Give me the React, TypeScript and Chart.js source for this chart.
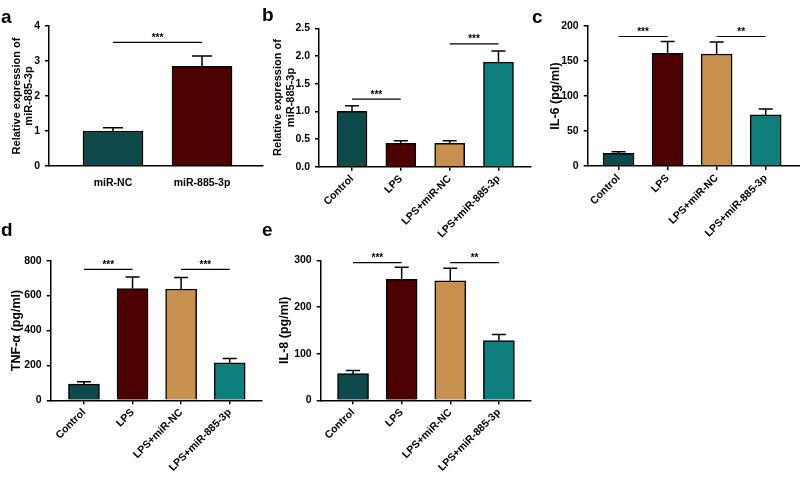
import React, { useEffect, useRef } from 'react';
import { Chart, registerables } from 'chart.js';
Chart.register(...registerables);

// ---------- data ----------
const GROUPS_A = ['miR-NC', 'miR-885-3p'];
const GROUPS = ['Control', 'LPS', 'LPS+miR-NC', 'LPS+miR-885-3p'];

const A_MEAN = [1.0, 2.85];
const A_ERR = [0.09, 0.29];
const A_SIG = [{ from: 0, to: 1, y: 3.53, label: '***' }];

const B_MEAN = [1.0, 0.42, 0.42, 1.89];
const B_ERR = [0.1, 0.05, 0.05, 0.2];
const B_SIG = [
  { from: 0, to: 1, y: 1.22, label: '***' },
  { from: 2, to: 3, y: 2.22, label: '***' },
];

const C_MEAN = [18, 161, 160, 73];
const C_ERR = [2.5, 17, 17, 8.5];
const C_SIG = [
  { from: 0, to: 1, y: 185, label: '***' },
  { from: 2, to: 3, y: 185, label: '**' },
];

const D_MEAN = [93, 640, 638, 215];
const D_ERR = [14, 66, 66, 25];
const D_SIG = [
  { from: 0, to: 1, y: 750, label: '***' },
  { from: 2, to: 3, y: 750, label: '***' },
];

const E_MEAN = [57, 259, 256, 128];
const E_ERR = [7, 26, 27, 13];
const E_SIG = [
  { from: 0, to: 1, y: 295, label: '***' },
  { from: 2, to: 3, y: 295, label: '**' },
];

const COLORS_A = ['#0e4a4b', '#4d0000'];
const COLORS = ['#0e4a4b', '#4d0000', '#c8904f', '#0e7f7c'];

const FONT = '"Liberation Sans", Arial, Helvetica, sans-serif';

// ---------- layout (positions / styles) ----------
type Panel = {
  letter: string;
  labels: string[];
  mean: number[];
  err: number[];
  sig: { from: number; to: number; y: number; label: string }[];
  colors: string[];
  yMax: number;
  yStep: number;
  decimals: number;
  yTitle: string | string[];
  titleSize: number;
  rot: number;
  showXTicks: boolean;
  box: { left: number; top: number; w: number; h: number };
  yWidth: number;
  xHeight: number;
  padTop: number;
  padRight: number;
  titlePad: number;
  xMin: number;
  xMax: number;
  barW: number;
  capW: number;
  labelPad: number;
  letterPos: { left: number; top: number };
};

const PANELS: Panel[] = [
  {
    letter: 'a', labels: GROUPS_A, mean: A_MEAN, err: A_ERR, sig: A_SIG, colors: COLORS_A,
    yMax: 4, yStep: 1, decimals: 0, yTitle: ['Relative expression of', 'miR-885-3p'], titleSize: 11,
    rot: 0, showXTicks: false,
    box: { left: 0, top: 0, w: 268, h: 240 }, yWidth: 49, xHeight: 74, padTop: 26, padRight: 5, titlePad: 10.5,
    xMin: -0.719, xMax: 1.685, barW: 60, capW: 20, labelPad: 7, letterPos: { left: 1, top: 7 },
  },
  {
    letter: 'b', labels: GROUPS, mean: B_MEAN, err: B_ERR, sig: B_SIG, colors: COLORS,
    yMax: 2.5, yStep: 0.5, decimals: 1, yTitle: ['Relative expression of', 'miR-885-3p'], titleSize: 11,
    rot: 45, showXTicks: true,
    box: { left: 268, top: 0, w: 268, h: 240 }, yWidth: 51, xHeight: 73.3, padTop: 28.3, padRight: 5, titlePad: 4,
    xMin: -0.676, xMax: 3.666, barW: 30, capW: 14, labelPad: 2, letterPos: { left: 262, top: 5 },
  },
  {
    letter: 'c', labels: GROUPS, mean: C_MEAN, err: C_ERR, sig: C_SIG, colors: COLORS,
    yMax: 200, yStep: 50, decimals: 0, yTitle: 'IL-6 (pg/ml)', titleSize: 12.5,
    rot: 45, showXTicks: true,
    box: { left: 540, top: 0, w: 260, h: 240 }, yWidth: 47.7, xHeight: 74, padTop: 26, padRight: 0, titlePad: 8,
    xMin: -0.629, xMax: 3.7, barW: 31, capW: 14, labelPad: 2, letterPos: { left: 532, top: 7 },
  },
  {
    letter: 'd', labels: GROUPS, mean: D_MEAN, err: D_ERR, sig: D_SIG, colors: COLORS,
    yMax: 800, yStep: 200, decimals: 0, yTitle: 'TNF-α (pg/ml)', titleSize: 12.5,
    rot: 45, showXTicks: true,
    box: { left: 0, top: 240, w: 268, h: 237 }, yWidth: 50.7, xHeight: 76.7, padTop: 20.7, padRight: 6, titlePad: 9.5,
    xMin: -0.685, xMax: 3.665, barW: 31, capW: 14, labelPad: 2, letterPos: { left: 1, top: 220 },
  },
  {
    letter: 'e', labels: GROUPS, mean: E_MEAN, err: E_ERR, sig: E_SIG, colors: COLORS,
    yMax: 300, yStep: 100, decimals: 0, yTitle: 'IL-8 (pg/ml)', titleSize: 12.5,
    rot: 45, showXTicks: true,
    box: { left: 268, top: 240, w: 268, h: 237 }, yWidth: 52.7, xHeight: 76.7, padTop: 20.3, padRight: 5, titlePad: 9.5,
    xMin: -0.665, xMax: 3.66, barW: 31, capW: 14, labelPad: 2, letterPos: { left: 262, top: 220 },
  },
];

function makeErrSigPlugin(p: Panel) {
  return {
    id: 'errSig',
    afterDatasetsDraw(chart: any) {
      const { ctx } = chart;
      const xs = chart.scales.x;
      const ys = chart.scales.y;
      ctx.save();
      ctx.strokeStyle = '#000';
      ctx.lineWidth = 1.5;
      p.mean.forEach((m, i) => {
        const x = xs.getPixelForValue(i);
        const y1 = ys.getPixelForValue(m);
        const y2 = ys.getPixelForValue(m + p.err[i]);
        ctx.beginPath();
        ctx.moveTo(x, y1);
        ctx.lineTo(x, y2);
        ctx.moveTo(x - p.capW / 2, y2);
        ctx.lineTo(x + p.capW / 2, y2);
        ctx.stroke();
      });
      ctx.lineWidth = 1.2;
      p.sig.forEach((s) => {
        const y = ys.getPixelForValue(s.y);
        const x1 = xs.getPixelForValue(s.from);
        const x2 = xs.getPixelForValue(s.to);
        ctx.beginPath();
        ctx.moveTo(x1, y);
        ctx.lineTo(x2, y);
        ctx.stroke();
        ctx.fillStyle = '#000';
        ctx.font = `bold 10px ${FONT}`;
        ctx.textAlign = 'center';
        ctx.textBaseline = 'alphabetic';
        ctx.fillText(s.label, (x1 + x2) / 2, y - 1.5);
      });
      ctx.restore();
    },
  };
}

function PanelChart({ p }: { p: Panel }) {
  const ref = useRef<HTMLCanvasElement | null>(null);
  useEffect(() => {
    if (!ref.current) return;
    const tickFont = { family: FONT, size: 10.5, weight: 'bold' as const };
    const chart = new Chart(ref.current, {
      type: 'bar',
      data: {
        datasets: [
          {
            data: p.mean.map((v, i) => ({ x: i, y: v })),
            backgroundColor: p.colors,
            borderColor: '#000',
            borderWidth: 1.5,
            barThickness: p.barW,
          } as any,
        ],
      },
      options: {
        animation: false,
        responsive: false,
        devicePixelRatio: 1,
        layout: { padding: { top: p.padTop, right: p.padRight, left: 0, bottom: 0 } },
        plugins: { legend: { display: false }, tooltip: { enabled: false } },
        scales: {
          x: {
            type: 'linear',
            min: p.xMin,
            max: p.xMax,
            bounds: 'data',
            offset: false,
            afterBuildTicks: (s: any) => {
              s.ticks = p.labels.map((_, i) => ({ value: i }));
            },
            afterFit: (s: any) => {
              s.height = p.xHeight;
            },
            ticks: {
              autoSkip: false,
              maxRotation: p.rot,
              minRotation: p.rot,
              padding: p.labelPad,
              color: '#000',
              font: tickFont,
              callback: (v: any) => p.labels[Math.round(Number(v))] ?? '',
            },
            grid: {
              display: true,
              offset: false,
              drawOnChartArea: false,
              drawTicks: true,
              tickLength: 4,
              color: p.showXTicks ? '#000' : 'rgba(0,0,0,0)',
              lineWidth: 1.5,
            },
            border: { display: true, color: '#000', width: 1.5 },
          } as any,
          y: {
            type: 'linear',
            min: 0,
            max: p.yMax,
            afterFit: (s: any) => {
              s.width = p.yWidth;
            },
            ticks: {
              stepSize: p.yStep,
              padding: 5,
              color: '#000',
              font: tickFont,
              callback: (v: any) => Number(v).toFixed(p.decimals),
            },
            grid: {
              display: true,
              drawOnChartArea: false,
              drawTicks: true,
              tickLength: 4,
              color: '#000',
              lineWidth: 1.5,
            },
            border: { display: true, color: '#000', width: 1.5 },
            title: {
              display: true,
              text: p.yTitle,
              color: '#000',
              font: { family: FONT, size: p.titleSize, weight: 'bold', lineHeight: Array.isArray(p.yTitle) ? '12.5px' : 1.2 },
              padding: { top: p.titlePad, bottom: 0 },
            },
          } as any,
        },
      },
      plugins: [makeErrSigPlugin(p)],
    });
    return () => chart.destroy();
  }, [p]);
  return (
    <canvas
      ref={ref}
      width={p.box.w}
      height={p.box.h}
      style={{ position: 'absolute', left: p.box.left, top: p.box.top, width: p.box.w, height: p.box.h, display: 'block' }}
    />
  );
}

export default function App() {
  return (
    <div style={{ position: 'absolute', left: 0, top: 0, width: 800, height: 477, background: '#fff', overflow: 'hidden' }}>
      {PANELS.map((p) => (
        <PanelChart key={p.letter} p={p} />
      ))}
      {PANELS.map((p) => (
        <div
          key={'l' + p.letter}
          style={{
            position: 'absolute',
            left: p.letterPos.left,
            top: p.letterPos.top,
            font: `bold 19px ${FONT}`,
            lineHeight: '19px',
            color: '#000',
          }}
        >
          {p.letter}
        </div>
      ))}
    </div>
  );
}
